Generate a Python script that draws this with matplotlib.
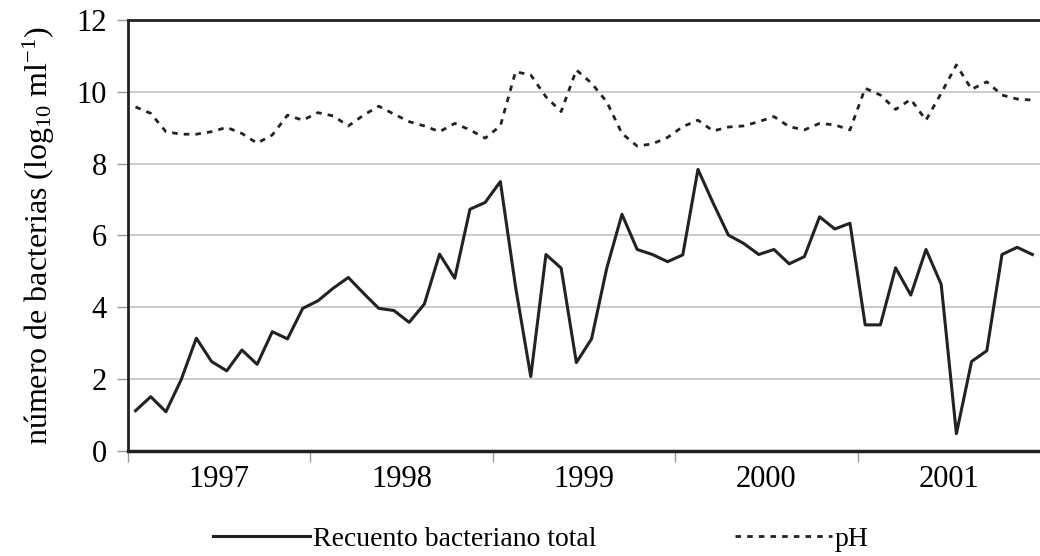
import matplotlib
matplotlib.use("Agg")
import matplotlib.pyplot as plt
import numpy as np

# monthly samples, Jan 1997 - Dec 2001
recuento = [1.12, 1.51, 1.09, 1.98, 3.14, 2.49, 2.23, 2.81, 2.41, 3.32, 3.12, 3.97,
            4.18, 4.53, 4.83, 4.39, 3.97, 3.91, 3.58, 4.09, 5.48, 4.81, 6.73, 6.92,
            7.50, 4.57, 2.07, 5.47, 5.09, 2.46, 3.12, 5.09, 6.59, 5.61, 5.47, 5.27,
            5.46, 7.84, 6.90, 6.01, 5.78, 5.47, 5.61, 5.21, 5.41, 6.52, 6.18, 6.34,
            3.51, 3.51, 5.10, 4.34, 5.61, 4.64, 0.48, 2.49, 2.79, 5.47, 5.67, 5.47]

ph = [9.58, 9.40, 8.89, 8.82, 8.82, 8.89, 9.01, 8.84, 8.57, 8.80, 9.35, 9.21,
      9.42, 9.33, 9.05, 9.35, 9.60, 9.38, 9.17, 9.05, 8.89, 9.12, 8.94, 8.71,
      9.05, 10.56, 10.47, 9.86, 9.45, 10.61, 10.24, 9.72, 8.84, 8.49, 8.55, 8.73,
      9.03, 9.21, 8.91, 9.02, 9.05, 9.17, 9.31, 9.03, 8.94, 9.12, 9.08, 8.94,
      10.10, 9.91, 9.51, 9.79, 9.21, 9.96, 10.75, 10.07, 10.28, 9.91, 9.80, 9.77]

years = ["1997", "1998", "1999", "2000", "2001"]

plt.rcParams['font.family'] = ['Liberation Serif', 'DejaVu Serif']
plt.rcParams['mathtext.fontset'] = 'custom'
plt.rcParams['mathtext.rm'] = 'Liberation Serif'
plt.rcParams['mathtext.it'] = 'Liberation Serif:italic'

fig = plt.figure(figsize=(10.4, 5.56), dpi=100)
ax = fig.add_axes([0.123, 0.189, 0.877, 0.775])

x = np.arange(len(recuento)) + 0.5
ln1, = ax.plot(x, recuento, color="#222222", lw=2.2, label="Recuento bacteriano total")
ln2, = ax.plot(x, ph, color="#222222", lw=2.0, ls=(0, (2.0, 2.2)), label="pH")

ax.set_xlim(0, 60)
ax.set_ylim(0, 12)
ax.set_yticks(range(0, 13, 2))
ax.yaxis.grid(True, color="#c4c4c4", lw=1.2)
ax.set_axisbelow(True)

ax.set_xticks(range(0, 60, 12))
ax.set_xticklabels([])
ax.set_xticks(np.arange(6, 60, 12), minor=True)
ax.set_xticklabels(years, minor=True)
ax.tick_params(axis="x", which="major", length=8, color="#999999", width=1)
ax.tick_params(axis="x", which="minor", length=0, pad=10, labelsize=22)
ax.tick_params(axis="y", length=8, color="#999999", width=1, pad=7, labelsize=22)

for s in ["left", "top", "bottom"]:
    ax.spines[s].set_color("#222222")
ax.spines["left"].set_linewidth(2)
ax.spines["top"].set_linewidth(2)
ax.spines["bottom"].set_linewidth(2.5)
ax.spines["right"].set_visible(False)

ax.set_ylabel(r"número de bacterias (log$_{10}$ ml$^{-1}$)", fontsize=23, labelpad=14)

fig.legend(handles=[ln1, ln2], loc="center", bbox_to_anchor=(0.52, 0.03), ncol=2,
           frameon=False, fontsize=20, handlelength=3.5, handletextpad=0.1,
           columnspacing=5.0)

fig.savefig("out.png", dpi=100)
